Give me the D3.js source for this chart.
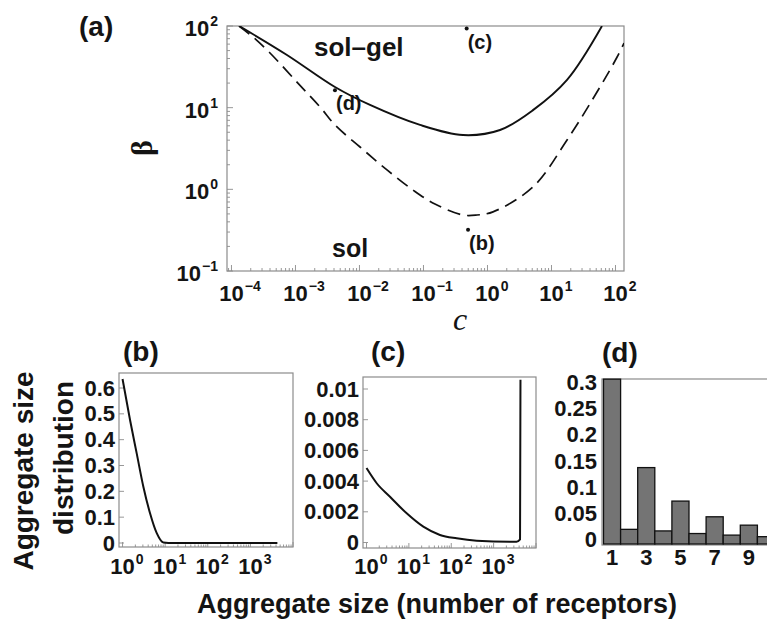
<!DOCTYPE html>
<html><head><meta charset="utf-8">
<script src="https://cdn.jsdelivr.net/npm/d3@7/dist/d3.min.js"></script>
<style>
body{margin:0;background:#fff}
svg{display:block}
text{font-family:"Liberation Sans",Arial,Helvetica,sans-serif;font-weight:bold;fill:#141414}
</style></head>
<body><svg width="767" height="622"></svg>
<script>
// ---------- DATA ----------
// Panel (a): phase diagram, c vs beta (log-log)
const cTicks = [1e-4, 1e-3, 1e-2, 1e-1, 1, 10, 100];
const cTickExp = ["\u22124", "\u22123", "\u22122", "\u22121", "0", "1", "2"];
const betaTicks = [0.1, 1, 10, 100];
const betaTickExp = ["\u22121", "0", "1", "2"];
const solidC    = [1.32e-4, 7.36e-4, 4.14e-3, 0.0146, 0.0883, 0.414, 1.57, 5.14, 17.5, 61.5];
const solidBeta = [100, 44.2, 17.9, 10.8, 6.14, 4.62, 5.33, 9.33, 21.9, 100];
const dashedC    = [1.31e-4, 2.17e-4, 4.0e-4, 1.09e-3, 2.42e-3, 4.14e-3, 0.0102, 0.0269, 0.0686, 0.151, 0.414, 0.685, 1.22, 5.14, 17.5, 57.3, 106, 136];
const dashedBeta = [100, 73.3, 46.7, 20.0, 10.2, 6.14, 3.30, 1.73, 0.98, 0.66, 0.485, 0.485, 0.53, 1.07, 4.02, 17.9, 41.7, 61.7];
const pointNames = ["(b)", "(c)", "(d)"];
const pointC     = [0.497, 0.473, 4.14e-3];
const pointBeta  = [0.32, 93, 16.3];
const regionNames = ["sol\u2013gel", "sol"];

// Panel (b): aggregate size distribution
const sizeTicks = [1, 10, 100, 1000];
const sizeTickExp = ["0", "1", "2", "3"];
const bTicks = [0, 0.1, 0.2, 0.3, 0.4, 0.5, 0.6];
const bTickLabels = ["0", "0.1", "0.2", "0.3", "0.4", "0.5", "0.6"];
const bSize  = [1, 1.5, 2.15, 3.08, 4.42, 6.35, 9.07, 15.6, 4300];
const bValue = [0.635, 0.476, 0.347, 0.218, 0.115, 0.038, 0.002, 0, 0];

// Panel (c)
const cPTicks = [0, 0.002, 0.004, 0.006, 0.008, 0.01];
const cPTickLabels = ["0", "0.002", "0.004", "0.006", "0.008", "0.01"];
const cSize  = [1, 1.74, 3.58, 8.87, 21.9, 54.1, 134, 398, 3470, 4200, 4300];
const cValue = [0.00485, 0.00386, 0.00298, 0.0019, 0.00103, 0.00049, 0.00027, 0.00012, 0.00005, 0.0002, 0.0106];

// Panel (d)
const dSize  = [1, 2, 3, 4, 5, 6, 7, 8, 9, 10];
const dValue = [0.315, 0.028, 0.146, 0.025, 0.082, 0.020, 0.052, 0.017, 0.036, 0.014];
const dTicks = [0, 0.05, 0.1, 0.15, 0.2, 0.25, 0.3];
const dTickLabels = ["0", "0.05", "0.1", "0.15", "0.2", "0.25", "0.3"];
const dXLabels = [1, 3, 5, 7, 9];

// ---------- DRAW ----------
const svg = d3.select("svg");
const FS = 22, SFS = 14;
const FRAME = "#8c8c8c";

function powLabel(g, x, y, exp, anchorEnd) {
  const t = g.append("text").attr("y", y).attr("font-size", FS);
  const b = t.append("tspan").text("10");
  t.append("tspan").attr("dy", -10).attr("dx", 1).attr("font-size", SFS).text(exp);
  if (anchorEnd) { t.attr("x", x).attr("text-anchor", "end"); }
  else {
    const w = b.node().getComputedTextLength();
    t.attr("x", x - w / 2);
  }
  return t;
}

function frame(g, x0, y0, x1, y1) {
  g.append("rect").attr("x", x0).attr("y", y0).attr("width", x1 - x0).attr("height", y1 - y0)
    .attr("fill", "none").attr("stroke", FRAME).attr("stroke-width", 1.2);
}

function clip(id, x0, y0, x1, y1) {
  svg.append("clipPath").attr("id", id).append("rect")
    .attr("x", x0).attr("y", y0).attr("width", x1 - x0).attr("height", y1 - y0);
  return "url(#" + id + ")";
}

// ===== Panel (a) =====
const A = {x0: 227, x1: 624, y0: 26, y1: 271};
const ax = d3.scaleLog().domain([Math.pow(10, -4.07), Math.pow(10, 2.133)]).range([A.x0, A.x1]);
const ay = d3.scaleLog().domain([0.1, 100]).range([A.y1, A.y0]);
const ga = svg.append("g");
frame(ga, A.x0, A.y0, A.x1, A.y1);
ax.ticks().forEach(v => {
  const maj = Math.abs(Math.log10(v) - Math.round(Math.log10(v))) < 1e-9;
  const L = maj ? 6 : 3;
  ga.append("line").attr("x1", ax(v)).attr("x2", ax(v)).attr("y1", A.y1).attr("y2", A.y1 - L)
    .attr("stroke", FRAME).attr("stroke-width", 0.9);
});
ay.ticks().forEach(v => {
  const maj = Math.abs(Math.log10(v) - Math.round(Math.log10(v))) < 1e-9;
  const L = maj ? 6 : 3;
  ga.append("line").attr("y1", ay(v)).attr("y2", ay(v)).attr("x1", A.x0).attr("x2", A.x0 + L)
    .attr("stroke", FRAME).attr("stroke-width", 0.9);
});
cTicks.forEach((v, i) => powLabel(ga, ax(v), 301, cTickExp[i], false));
betaTicks.forEach((v, i) => powLabel(ga, 218, ay(v) + 10, betaTickExp[i], true));

const clipA = clip("clipA", A.x0, A.y0, A.x1, A.y1);
const lineA = d3.line().x(d => ax(d[0])).y(d => ay(d[1])).curve(d3.curveCatmullRom.alpha(0.5));
ga.append("path").attr("clip-path", clipA)
  .attr("d", lineA(solidC.map((c, i) => [c, solidBeta[i]])))
  .attr("fill", "none").attr("stroke", "#111").attr("stroke-width", 1.9);
ga.append("path").attr("clip-path", clipA)
  .attr("d", lineA(dashedC.map((c, i) => [c, dashedBeta[i]])))
  .attr("fill", "none").attr("stroke", "#111").attr("stroke-width", 1.7)
  .attr("stroke-dasharray", "13,7");
pointC.forEach((c, i) => {
  ga.append("circle").attr("cx", ax(c)).attr("cy", ay(pointBeta[i])).attr("r", 2).attr("fill", "#111");
  ga.append("text").attr("x", ax(c) + 1).attr("y", ay(pointBeta[i]) + 20).attr("font-size", 20)
    .text(pointNames[i]);
});
ga.append("text").attr("x", 314).attr("y", 56).attr("font-size", 26).text(regionNames[0]);
ga.append("text").attr("x", 332).attr("y", 257).attr("font-size", 25).text(regionNames[1]);
ga.append("text").attr("x", 79).attr("y", 36).attr("font-size", 28).text("(a)");
ga.append("text").attr("transform", "translate(152,148) rotate(-90)").attr("text-anchor", "middle")
  .style("font-family", '"Liberation Serif","Times New Roman",serif').style("font-weight", "bold")
  .attr("font-size", 30).text("\u03b2");
ga.append("text").attr("x", 460).attr("y", 330).attr("text-anchor", "middle")
  .style("font-family", '"Liberation Serif","Times New Roman",serif').style("font-weight", "normal")
  .style("font-style", "italic").attr("font-size", 32).text("c");

// ===== Panels (b) and (c) =====
function logPanel(P, yDomainPx, yTicks, yLabels, xs, ys, id, title, titleX) {
  const g = svg.append("g");
  const x = d3.scaleLog().domain([Math.pow(10, -0.083), 1e4]).range([P.x0, P.x1]);
  const y = d3.scaleLinear().domain(yDomainPx.dom).range(yDomainPx.rng);
  frame(g, P.x0, P.y0, P.x1, P.y1);
  x.ticks().filter(v => v >= 1).forEach(v => {
    const maj = Math.abs(Math.log10(v) - Math.round(Math.log10(v))) < 1e-9;
    g.append("line").attr("x1", x(v)).attr("x2", x(v)).attr("y1", P.y1).attr("y2", P.y1 - (maj ? 5 : 2.5))
      .attr("stroke", FRAME).attr("stroke-width", 0.9);
  });
  yTicks.forEach(v => {
    g.append("line").attr("x1", P.x0).attr("x2", P.x0 + 5).attr("y1", y(v)).attr("y2", y(v))
      .attr("stroke", FRAME).attr("stroke-width", 0.9);
  });
  sizeTicks.forEach((v, i) => powLabel(g, x(v), 574, sizeTickExp[i], false));
  yTicks.forEach((v, i) => {
    g.append("text").attr("x", P.x0 - 4).attr("y", y(v) + 7.5).attr("text-anchor", "end")
      .attr("font-size", FS).text(yLabels[i]);
  });
  const cp = clip(id, P.x0, P.y0, P.x1, P.y1);
  const line = d3.line().x(d => x(d[0])).y(d => y(d[1])).curve(d3.curveMonotoneX);
  g.append("path").attr("clip-path", cp)
    .attr("d", line(xs.map((s, i) => [s, ys[i]])))
    .attr("fill", "none").attr("stroke", "#111").attr("stroke-width", 2);
  g.append("text").attr("x", titleX).attr("y", 361).attr("font-size", 28).text(title);
  return g;
}
logPanel({x0: 119, x1: 293, y0: 373, y1: 547}, {dom: [0, 0.6], rng: [543, 388]},
  bTicks, bTickLabels, bSize, bValue, "clipB", "(b)", 123);
logPanel({x0: 363, x1: 536, y0: 377, y1: 548}, {dom: [0, 0.01], rng: [542.5, 389]},
  cPTicks, cPTickLabels, cSize, cValue, "clipC", "(c)", 371);

// ===== Panel (d) =====
const D = {x0: 602, x1: 800, y0: 379, y1: 545};
const gd = svg.append("g");
const dx = d3.scaleBand().domain(dSize).range([603.5, 603.5 + 17.1 * dSize.length]).padding(0);
const dy = d3.scaleLinear().domain([0, 0.3]).range([544, 387]);
frame(gd, D.x0, D.y0, D.x1, D.y1);
gd.selectAll("rect.bar").data(dSize).enter().append("rect").attr("class", "bar")
  .attr("x", d => dx(d)).attr("width", dx.bandwidth())
  .attr("y", (d, i) => dy(dValue[i])).attr("height", (d, i) => dy(0) - dy(dValue[i]))
  .attr("fill", "#747474").attr("stroke", "#111").attr("stroke-width", 1.3);
dTicks.forEach((v, i) => {
  gd.append("text").attr("x", 597).attr("y", dy(v) + 3).attr("text-anchor", "end")
    .attr("font-size", FS).text(dTickLabels[i]);
});
dXLabels.forEach(v => {
  gd.append("text").attr("x", dx(v) + dx.bandwidth() / 2).attr("y", 565).attr("text-anchor", "middle")
    .attr("font-size", FS).text(v);
});
gd.append("text").attr("x", 602).attr("y", 362).attr("font-size", 28).text("(d)");

// ===== Shared axis titles =====
svg.append("text").attr("x", 437).attr("y", 613).attr("text-anchor", "middle").attr("font-size", 27)
  .text("Aggregate size (number of receptors)");
svg.append("text").attr("transform", "translate(33,471) rotate(-90)").attr("text-anchor", "middle")
  .attr("font-size", 28).text("Aggregate size");
svg.append("text").attr("transform", "translate(73,458) rotate(-90)").attr("text-anchor", "middle")
  .attr("font-size", 28).text("distribution");
</script></body></html>
